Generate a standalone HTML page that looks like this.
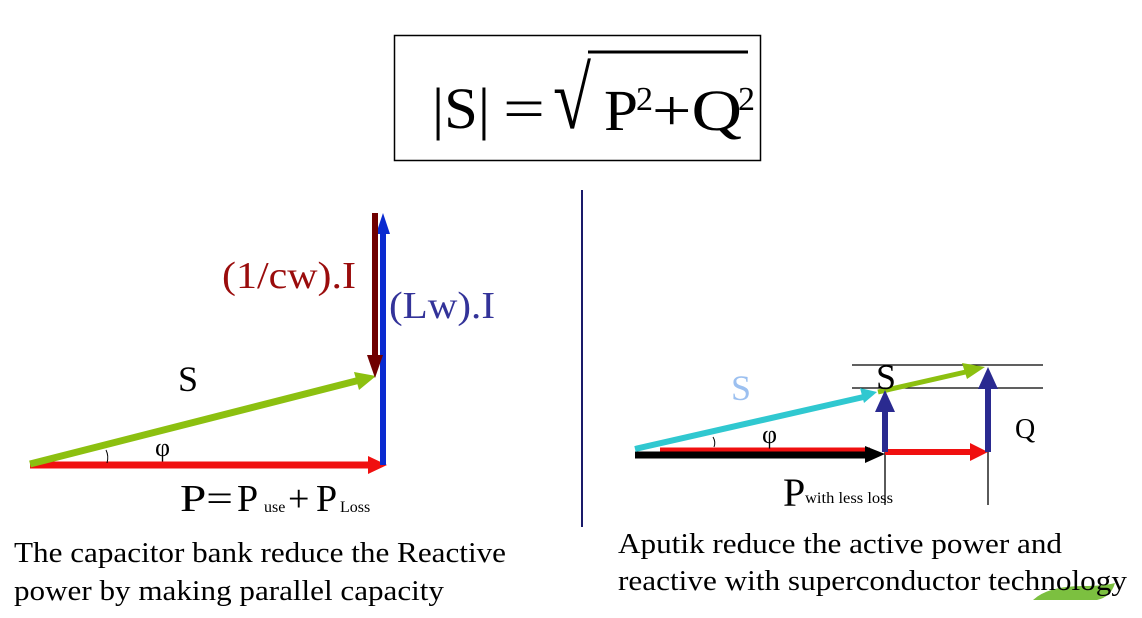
<!DOCTYPE html>
<html><head><meta charset="utf-8"><style>
html,body{margin:0;padding:0;background:#fff;}
svg{display:block;font-family:"Liberation Serif",serif;}
</style></head><body>
<svg width="1142" height="618" viewBox="0 0 1142 618" xmlns="http://www.w3.org/2000/svg">
<rect x="394.5" y="35.5" width="366" height="125" fill="none" stroke="#000" stroke-width="1.5"/>
<text x="432" y="128" font-size="58" textLength="58" lengthAdjust="spacingAndGlyphs">|S|</text>
<text x="503" y="128" font-size="58" textLength="42" lengthAdjust="spacingAndGlyphs">=</text>
<text x="553" y="128" font-size="88" textLength="38" lengthAdjust="spacingAndGlyphs">√</text>
<line x1="588" y1="52" x2="748" y2="52" stroke="#000" stroke-width="3"/>
<text x="604" y="130" font-size="58" textLength="34" lengthAdjust="spacingAndGlyphs">P</text>
<text x="636" y="110" font-size="34">2</text>
<text x="652" y="130" font-size="58" textLength="90" lengthAdjust="spacingAndGlyphs">+Q</text>
<text x="738" y="110" font-size="34">2</text>

<!-- left -->
<line x1="30" y1="465" x2="372" y2="465" stroke="#f01010" stroke-width="7"/>
<polygon points="368,456 387,465 368,474" fill="#f01010"/>
<line x1="30" y1="464" x2="360" y2="380" stroke="#8cc010" stroke-width="7"/>
<polygon points="354,372 376,376 359,390" fill="#8cc010"/>
<line x1="383" y1="465" x2="383" y2="230" stroke="#0a2ad0" stroke-width="6"/>
<polygon points="376,234 383,213 390,234" fill="#0a2ad0"/>
<line x1="375" y1="213" x2="375" y2="360" stroke="#700000" stroke-width="6"/>
<polygon points="367,355 375,378 383,355" fill="#700000"/>
<path d="M106,450 q3,6 1,13" fill="none" stroke="#000" stroke-width="1"/>
<text x="222" y="288" font-size="38" fill="#9a0c0c" textLength="134" lengthAdjust="spacingAndGlyphs">(1/cw).I</text>
<text x="389" y="318" font-size="38" fill="#333399" textLength="106" lengthAdjust="spacingAndGlyphs">(Lw).I</text>
<text x="178" y="391" font-size="36">S</text>
<text x="155" y="456" font-size="26">φ</text>
<text x="180" y="511" font-size="38" textLength="53" lengthAdjust="spacingAndGlyphs">P=</text>
<text x="237" y="511" font-size="38">P</text>
<text x="264" y="512" font-size="16">use</text>
<text x="288" y="511" font-size="38">+</text>
<text x="316" y="511" font-size="38">P</text>
<text x="340" y="512" font-size="16">Loss</text>

<line x1="582" y1="190" x2="582" y2="527" stroke="#1a1a6a" stroke-width="2"/>

<!-- right -->
<line x1="852" y1="365" x2="1043" y2="365" stroke="#000" stroke-width="1.3"/>
<line x1="852" y1="388" x2="1043" y2="388" stroke="#000" stroke-width="1.3"/>
<line x1="885" y1="450" x2="885" y2="505" stroke="#000" stroke-width="1.3"/>
<line x1="988" y1="450" x2="988" y2="505" stroke="#000" stroke-width="1.3"/>
<line x1="885" y1="452" x2="972" y2="452" stroke="#f01010" stroke-width="6"/>
<polygon points="970,443 988,452 970,461" fill="#f01010"/>
<line x1="660" y1="450" x2="870" y2="450" stroke="#f01010" stroke-width="5"/>
<line x1="635" y1="455" x2="868" y2="455" stroke="#000" stroke-width="7"/>
<polygon points="865,446 885,454 865,463" fill="#000"/>
<line x1="635" y1="449" x2="868" y2="396" stroke="#30c8d0" stroke-width="6"/>
<polygon points="860,388 877,392 864,403" fill="#30c8d0"/>
<line x1="878" y1="392" x2="970" y2="371" stroke="#8cc010" stroke-width="5"/>
<polygon points="962,363 985,367 967,379" fill="#8cc010"/>
<line x1="885" y1="452" x2="885" y2="410" stroke="#2a2a90" stroke-width="6"/>
<polygon points="875,412 885,390 895,412" fill="#2a2a90"/>
<line x1="988" y1="452" x2="988" y2="388" stroke="#2a2a90" stroke-width="6"/>
<polygon points="978,389 988,367 998,389" fill="#2a2a90"/>
<path d="M713,437 q3,5 1,10" fill="none" stroke="#000" stroke-width="1"/>
<text x="731" y="400" font-size="36" fill="#9cc0f0">S</text>
<text x="876" y="389" font-size="36">S</text>
<text x="762" y="443" font-size="26">φ</text>
<text x="1015" y="438" font-size="28">Q</text>
<text x="783" y="506" font-size="40">P</text>
<text x="805" y="503" font-size="16" textLength="88" lengthAdjust="spacingAndGlyphs">with less loss</text>

<path d="M1033,600 q15,-14 50,-14 q20,0 32,-3 q-4,14 -18,17 z" fill="#7cc040"/>
<g font-size="28">
<text x="14" y="562" textLength="492" lengthAdjust="spacingAndGlyphs">The capacitor bank reduce the Reactive</text>
<text x="14" y="600" textLength="430" lengthAdjust="spacingAndGlyphs">power by making parallel capacity</text>
<text x="618" y="553" textLength="444" lengthAdjust="spacingAndGlyphs">Aputik reduce the active power and</text>
<text x="618" y="590" textLength="509" lengthAdjust="spacingAndGlyphs">reactive with superconductor technology</text>
</g>
</svg>
</body></html>
